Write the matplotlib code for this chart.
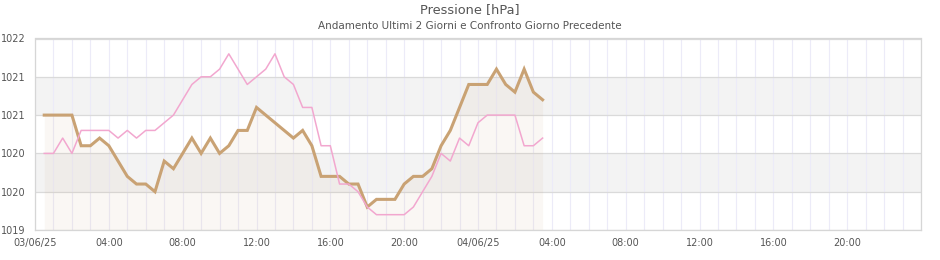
import numpy as np
import pandas as pd
import matplotlib
matplotlib.use("Agg")
import matplotlib.pyplot as plt
import matplotlib.dates as mdates
from matplotlib.ticker import FuncFormatter

# letture ogni 30 minuti dal 03/06/25 00:30 al 04/06/25 03:30
start = "2025-06-03 00:30"
n_points = 55

# ultimi 2 giorni
pressione = [1021.0, 1021.0, 1021.0, 1021.0, 1020.6, 1020.6, 1020.7, 1020.6, 1020.4, 1020.2,
             1020.1, 1020.1, 1020.0, 1020.4, 1020.3, 1020.5, 1020.7, 1020.5, 1020.7, 1020.5,
             1020.6, 1020.8, 1020.8, 1021.1, 1021.0, 1020.9, 1020.8, 1020.7, 1020.8, 1020.6,
             1020.2, 1020.2, 1020.2, 1020.1, 1020.1, 1019.8, 1019.9, 1019.9, 1019.9, 1020.1,
             1020.2, 1020.2, 1020.3, 1020.6, 1020.8, 1021.1, 1021.4, 1021.4, 1021.4, 1021.6,
             1021.4, 1021.3, 1021.6, 1021.3, 1021.2]

# confronto giorno precedente
precedente = [1020.5, 1020.5, 1020.7, 1020.5, 1020.8, 1020.8, 1020.8, 1020.8, 1020.7, 1020.8,
              1020.7, 1020.8, 1020.8, 1020.9, 1021.0, 1021.2, 1021.4, 1021.5, 1021.5, 1021.6,
              1021.8, 1021.6, 1021.4, 1021.5, 1021.6, 1021.8, 1021.5, 1021.4, 1021.1, 1021.1,
              1020.6, 1020.6, 1020.1, 1020.1, 1020.0, 1019.8, 1019.7, 1019.7, 1019.7, 1019.7,
              1019.8, 1020.0, 1020.2, 1020.5, 1020.4, 1020.7, 1020.6, 1020.9, 1021.0, 1021.0,
              1021.0, 1021.0, 1020.6, 1020.6, 1020.7]

y_ticks = [1019.5, 1020.0, 1020.5, 1021.0, 1021.5, 1022.0]
bands = [(1020.0, 1020.5), (1021.0, 1021.5)]

times = pd.date_range(start, periods=n_points, freq="30min")
x_start = pd.Timestamp("2025-06-03 00:00")
x_end = pd.Timestamp("2025-06-05 00:00")

text_col = "#555555"
tan = "#c9a274"
pink = "#f2a7cf"

fig = plt.figure(figsize=(9.4, 2.6), dpi=100)
ax = fig.add_axes([35 / 940, 30 / 260, 886 / 940, 191.5 / 260])

for lo, hi in bands:
    ax.axhspan(lo, hi, color="#f3f3f3", zorder=0, lw=0)

# griglia oraria verticale
for t in pd.date_range(x_start, x_end, freq="1h"):
    ax.axvline(t, color="#ecebf8", lw=0.8, zorder=0.5)
for v in y_ticks:
    ax.axhline(v, color="#dadada", lw=0.9, zorder=0.6)

ax.fill_between(times, pressione, y_ticks[0], color=tan, alpha=0.08, lw=0, zorder=1)
ax.plot(times, pressione, color=tan, lw=2.2, zorder=3, solid_joinstyle="miter")
ax.plot(times, precedente, color=pink, lw=1.1, zorder=4)

ax.set_xlim(x_start, x_end)
ax.set_ylim(y_ticks[0], y_ticks[-1])
ax.set_yticks(y_ticks)
ax.yaxis.set_major_formatter(FuncFormatter(lambda v, p: "%d" % int(v)))

ax.xaxis.set_major_locator(mdates.HourLocator(byhour=[0, 4, 8, 12, 16, 20]))
end_num = mdates.date2num(x_end)


def fmt_x(v, pos):
    if v >= end_num - 1e-6:
        return ""
    d = mdates.num2date(v)
    if d.hour == 0:
        return d.strftime("%d/%m/%y")
    return d.strftime("%H:%M")


ax.xaxis.set_major_formatter(FuncFormatter(fmt_x))
ax.tick_params(length=0, labelsize=7, colors=text_col)
ax.tick_params(axis="y", pad=7)
ax.tick_params(axis="x", pad=6)

for s in ax.spines.values():
    s.set_color("#d6d6d6")
    s.set_linewidth(0.9)

fig.text(0.5, 1 - 10 / 260, "Pressione [hPa]", ha="center", va="center",
         fontsize=9.3, color=text_col)
fig.text(0.5, 1 - 26 / 260, "Andamento Ultimi 2 Giorni e Confronto Giorno Precedente",
         ha="center", va="center", fontsize=7.5, color=text_col)

fig.savefig("out.png", dpi=100)
